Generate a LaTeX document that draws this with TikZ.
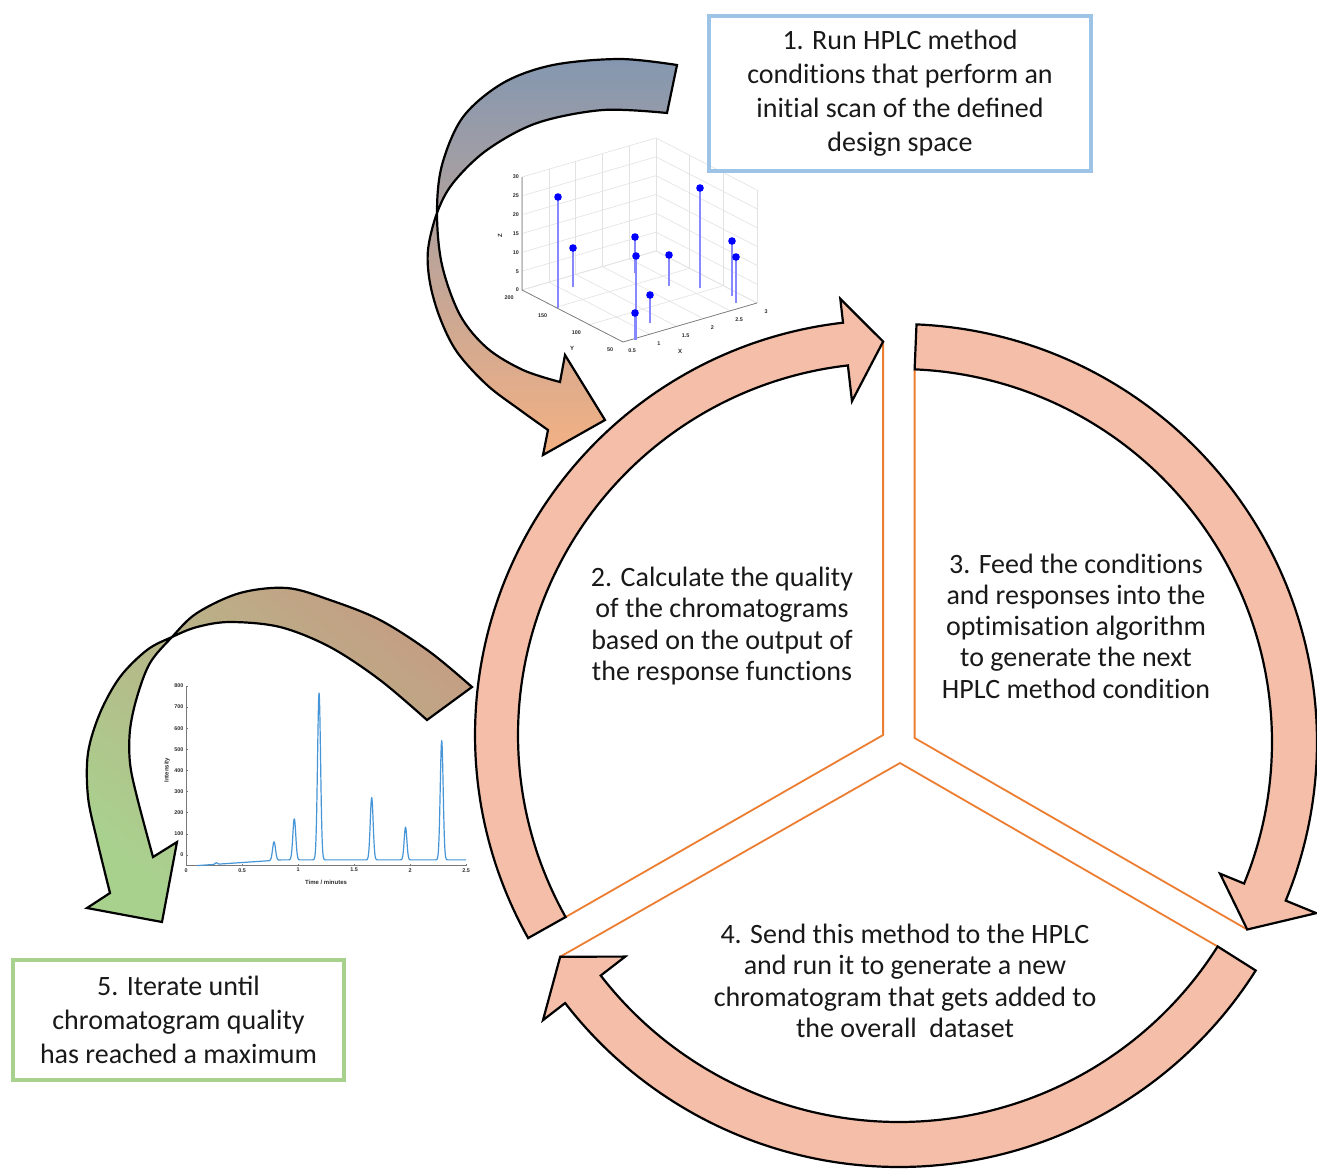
\documentclass[tikz,border=0pt]{standalone}
\usepackage{fontspec}
\setmainfont{Carlito}
\newfontfamily\plotfont{Liberation Sans}
\usetikzlibrary{calc}
\newcommand\nti{t\kern0pt i}
\definecolor{ringfill}{RGB}{244,190,168}
\definecolor{sectororange}{RGB}{237,125,49}
\definecolor{boxblue}{RGB}{157,195,230}
\definecolor{boxgreen}{RGB}{169,209,142}
\definecolor{slate}{RGB}{132,151,176}
\definecolor{peach}{RGB}{244,177,131}
\definecolor{tanbrown}{RGB}{196,158,132}
\definecolor{leafgreen}{RGB}{169,209,142}
\definecolor{txt}{RGB}{25,25,25}
\definecolor{gridgray}{RGB}{226,226,226}
\definecolor{axgray}{RGB}{120,120,120}
\definecolor{tickgray}{RGB}{45,45,45}
\definecolor{stemblue}{RGB}{135,135,255}
\definecolor{chromblue}{RGB}{70,150,215}
\tikzset{
  ringarrow/.style={fill=ringfill, draw=black, line width=2.2, line join=miter},
  bentarrow/.style={draw=black, line width=2.2, line join=miter},
  sectorline/.style={draw=sectororange, line width=1.8, line join=miter},
  centertext/.style={font=\fontsize{28}{31.3}\selectfont, text=txt, align=center, inner sep=0},
  boxtext/.style={font=\fontsize{28}{34}\selectfont, text=txt, align=center, line width=4, inner sep=0},
  gridline/.style={draw=gridgray, line width=0.6},
  axisline/.style={draw=axgray, line width=0.7},
  ticklabel/.style={font=\plotfont\bfseries\fontsize{5.4}{6}\selectfont, text=tickgray, inner sep=0},
  axislabel/.style={font=\plotfont\bfseries\fontsize{6}{7}\selectfont, text=tickgray, inner sep=0},
  stemline/.style={draw=stemblue, line width=1.4},
  stemdot/.style={fill=blue},
  chromline/.style={draw=chromblue, line width=1.2, line join=round},
}
% center x, center y, r in, r out, tail angle, head base angle, tip angle, barb r in, barb r out
\newcommand\RingArrow[9]{%
  \filldraw[ringarrow]
    plot[domain=#5:#6, samples=100, variable=\t] ({#1+#4*cos(\t)}, {#2+#4*sin(\t)})
    -- ({#1+#9*cos(#6)}, {#2+#9*sin(#6)})
    -- ({#1+0.5*(#3+#4)*cos(#7)}, {#2+0.5*(#3+#4)*sin(#7)})
    -- ({#1+#8*cos(#6)}, {#2+#8*sin(#6)})
    -- plot[domain=#6:#5, samples=100, variable=\t] ({#1+#3*cos(\t)}, {#2+#3*sin(\t)})
    -- cycle;}
\begin{document}
\begin{tikzpicture}[x=1pt, y=-1pt]
\fill[white] (0,0) rectangle (1317,1171);
\useasboundingbox (0,0) rectangle (1317,1171);

% ---- bent arrow 1 (top left) ----
\shadedraw[top color=slate, bottom color=peach, bentarrow]
  plot[smooth, tension=0.55] coordinates {(677,65) (620,59) (553,65) (503,83) (463,117) (442,165) (437,213) (442,265) (460,315) (487,348) (523,370) (560,382)}
  -- (565,355) -- (605,420) -- (543,455) -- (548,430)
  -- plot[smooth, tension=0.55] coordinates {(548,430) (520,410) (487,385) (457,352) (440,318) (430,283) (428,250) (437,213) (453,183) (487,150) (537,123) (603,110) (667,113)}
  -- cycle;

% ---- bent arrow 5 (left) ----
\shadedraw[top color=tanbrown, bottom color=leafgreen, shading angle=-40, bentarrow]
  plot[smooth, tension=0.55] coordinates {(472,687) (430,652) (380,620) (330,600) (287,588) (240,593) (197,613) (172,637) (150,663) (137,697) (130,730) (130,763) (137,797) (153,857)}
  -- (177,842) -- (162,922) -- (87,908) -- (110,893)
  -- plot[smooth, tension=0.55] coordinates {(110,893) (97,840) (88,797) (88,753) (100,713) (120,677) (147,650) (172,637) (197,627) (230,622) (280,627) (330,647) (380,680) (427,720)}
  -- cycle;

% ---- sectors ----
\coordinate (tip2) at ({890+393.5*cos(269)},{735+393.5*sin(269)});
\coordinate (tail2) at ({890+372*cos(150.7)},{735+372*sin(150.7)});
\coordinate (tail3) at ({899+373*cos(272.4)},{742+373*sin(272.4)});
\coordinate (tip3) at ({899+395.5*cos(388.3)},{742+395.5*sin(388.3)});
\coordinate (tail4) at ({899+377*cos(32.3)},{745+377*sin(32.3)});
\coordinate (tip4) at ({899+399.5*cos(148)},{745+399.5*sin(148)});
\coordinate (hub2) at (883.1,735);
\coordinate (hub3) at (914.6,738);
\coordinate (hub4) at (900,763);
\draw[sectorline] (tip2) -- (tip2 |- hub2) -- (tail2);
\draw[sectorline] (tail3) -- (tail3 |- hub3) -- (tip3);
\draw[sectorline] (tail4) -- (hub4) -- (tip4);

% ---- ring arrows ----
\RingArrow{890}{735}{372}{415}{150.7}{263.5}{269}{336}{439}
\RingArrow{899}{742}{373}{418}{272.4}{382.3}{388.3}{347}{451}
\RingArrow{899}{745}{377}{422}{32.3}{142.3}{148}{346}{450}

% ---- 3D stem plot ----
\begin{scope}[shift={(629.87,367.13)}, x={(53.6pt,15.6pt)}, y={(-0.67333pt,0.34667pt)}, z={(0pt,3.76667pt)}]
  \foreach \xx in {0.5,1,1.5,2,2.5,3} {
    \draw[gridline] (\xx,50,0) -- (\xx,200,0);
    \draw[gridline] (\xx,200,0) -- (\xx,200,30);
  }
  \foreach \yy in {50,100,150,200} {
    \draw[gridline] (0.5,\yy,0) -- (3,\yy,0);
    \draw[gridline] (3,\yy,0) -- (3,\yy,30);
  }
  \foreach \zz in {0,5,...,30} {
    \draw[gridline] (0.5,200,\zz) -- (3,200,\zz) -- (3,50,\zz);
  }
  \draw[axisline] (0.5,200,30) -- (0.5,200,0) -- (0.5,50,0) -- (3,50,0);
  \foreach \zz in {0,5,...,30}
    \node[ticklabel, anchor=east, xshift=-3pt] (zt\zz) at (0.5,200,\zz) {\zz};
  \foreach \yy in {50,100,150,200}
    \node[ticklabel, xshift=-13pt, yshift=-8pt] (yt\yy) at (0.5,\yy,0) {\yy};
  \foreach \xx/\nm in {0.5/a,1/b,1.5/c,2/d,2.5/e,3/f}
    \node[ticklabel, xshift=9pt, yshift=-9pt] (xt\nm) at (\xx,50,0) {\xx};
\end{scope}
\node[axislabel, rotate=90] (zlab) at (500,236) {Z};
\node[axislabel] (ylab) at (572,348) {Y};
\node[axislabel] (xlab) at (680,351) {X};
\foreach \sx/\sy/\sb in {558/197/308, 573/248/287, 635/237/273, 636/256/340, 669/255/286, 700/188/288, 650/295/323, 635/313/340, 732/241/296, 736/257/303} {
  \draw[stemline] (\sx,\sb) -- (\sx,\sy);
  \fill[stemdot] (\sx,\sy) circle[radius=3.8];
}

% ---- chromatogram ----
\begin{scope}[shift={(186,855)}, x=112pt, y=0.2113pt,
  declare function={bl(\t)=(\t<0.85)*(-50+36*(\t-0.1))+(\t>=0.85)*(-23); gs(\t,\m,\s)=exp(-0.5*((\t-\m)/\s)^2);}]
  \draw[axisline] (0,800) -- (0,-50) -- (2.5,-50);
  \foreach \v in {0,100,...,800} {
    \draw[axisline] (0,\v) -- ++(2pt,0);
    \node[ticklabel, anchor=east, xshift=-2.5pt] (it\v) at (0,\v) {\v};
  }
  \foreach \tx/\nm in {0/a,0.5/b,1/c,1.5/d,2/e,2.5/f} {
    \draw[axisline] (\tx,-50) -- ++(0,2pt);
    \node[ticklabel, anchor=north, yshift=-2.5pt] (tt\nm) at (\tx,-50) {\tx};
  }
  \draw[chromline] plot[domain=0.1:0.22, samples=10] (\x,{bl(\x)})
    -- plot[domain=0.22:0.32, samples=40] (\x,{bl(\x)+7*gs(\x,0.27,0.01)})
    -- plot[domain=0.32:0.72, samples=20] (\x,{bl(\x)})
    -- plot[domain=0.72:0.86, samples=70] (\x,{bl(\x)+88*gs(\x,0.786,0.013)})
    -- plot[domain=0.86:1.06, samples=80] (\x,{bl(\x)+195*gs(\x,0.967,0.013)})
    -- plot[domain=1.06:1.30, samples=110] (\x,{bl(\x)+790*gs(\x,1.188,0.0135)})
    -- plot[domain=1.30:1.56, samples=10] (\x,{bl(\x)})
    -- plot[domain=1.56:1.76, samples=80] (\x,{bl(\x)+295*gs(\x,1.658,0.013)})
    -- plot[domain=1.76:1.86, samples=5] (\x,{bl(\x)})
    -- plot[domain=1.86:2.06, samples=80] (\x,{bl(\x)+155*gs(\x,1.96,0.012)})
    -- plot[domain=2.06:2.18, samples=5] (\x,{bl(\x)})
    -- plot[domain=2.18:2.38, samples=80] (\x,{bl(\x)+565*gs(\x,2.283,0.013)})
    -- plot[domain=2.38:2.5, samples=5] (\x,{bl(\x)});
\end{scope}
\node[axislabel] (tlab) at (326,882) {Time / minutes};
\node[axislabel, rotate=90] (ilab) at (167,770) {Intensity};

% ---- texts ----
\node[boxtext, draw=boxblue, minimum width=382, minimum height=155] (q1) at (900,93)
  {1. Run HPLC method\\condi\nti{}ons that perform an\\ini\nti{}al scan of the defined\\design space};
\node[centertext] (q2) at (722,626)
  {2. Calculate the quality\\of the chromatograms\\based on the output of\\the response func\nti{}ons};
\node[centertext] (q3) at (1076,626)
  {3. Feed the condi\nti{}ons\\and responses into the\\op\nti{}misa\nti{}on algorithm\\to generate the next\\HPLC method condi\nti{}on};
\node[centertext] (q4) at (905,981)
  {4. Send this method to the HPLC\\and run it to generate a new\\chromatogram that gets added to\\the overall\ \ dataset};
\node[boxtext, draw=boxgreen, minimum width=331, minimum height=120] (q5) at (178.5,1020)
  {5. Iterate until\\chromatogram quality\\has reached a maximum};
\end{tikzpicture}
\end{document}
